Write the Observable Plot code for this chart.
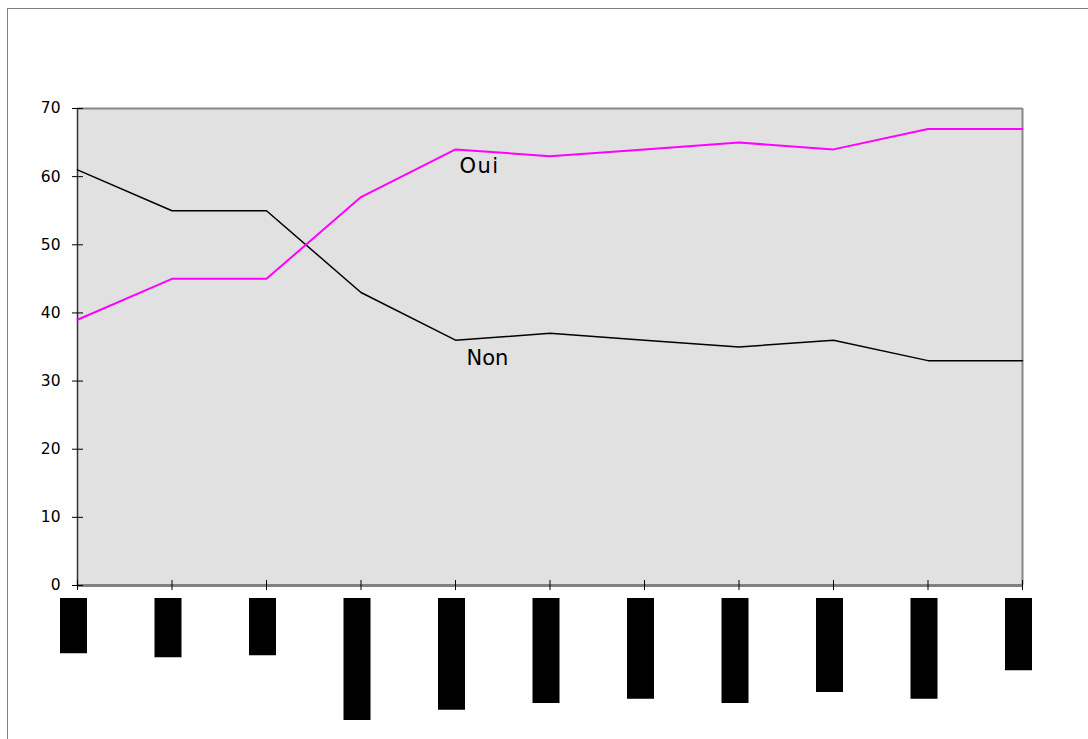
<!DOCTYPE html>
<html><head><meta charset="utf-8">
<script src="https://cdn.jsdelivr.net/npm/d3@7"></script>
<script src="https://cdn.jsdelivr.net/npm/@observablehq/plot@0.6"></script>
<style>
html,body{margin:0;padding:0;background:#fff;overflow:hidden;}
#wrap{position:relative;width:1088px;height:739px;overflow:hidden;}
#border{position:absolute;left:7px;top:8px;width:1100px;height:800px;border-top:1px solid #808080;border-left:1px solid #808080;}
#chart{position:absolute;left:0;top:0;}
</style></head><body>
<div id="wrap"><div id="border"></div><div id="chart"></div></div>
<script>
// Survey periods (original tick labels are redacted in the reference, shown as black boxes)
const periodIndex = [0, 1, 2, 3, 4, 5, 6, 7, 8, 9, 10];
const oui = [39, 45, 45, 57, 64, 63, 64, 65, 64, 67, 67];
const non = [61, 55, 55, 43, 36, 37, 36, 35, 36, 33, 33];
const seriesNames = ["Oui", "Non"];
const yTicks = [0, 10, 20, 30, 40, 50, 60, 70];
// redacted label boxes: extent below the axis, in axis units
const labelMaskTop = -1.9;
const labelMaskDepth = [10.0, 10.6, 10.3, 19.8, 18.3, 17.3, 16.7, 17.3, 15.7, 16.7, 12.5];

const data = periodIndex.map((i, k) => ({i, oui: oui[k], non: non[k], mask: labelMaskDepth[k]}));

const chart = Plot.plot({
  width: 1088, height: 739,
  marginLeft: 77, marginRight: 66, marginTop: 108, marginBottom: 154,
  style: {fontFamily: "'DejaVu Sans', sans-serif", fontSize: "15.5px", color: "#000", background: "transparent", overflow: "visible"},
  x: {domain: [0, 10], axis: null},
  y: {domain: [0, 70], axis: null},
  marks: [
    Plot.frame({fill: "#e1e1e1", stroke: null}),
    Plot.ruleY([70], {stroke: "#888", strokeWidth: 2}),
    Plot.ruleX([10], {stroke: "#888", strokeWidth: 2}),
    Plot.ruleY([0], {stroke: "#808080", strokeWidth: 3}),
    Plot.ruleX([0], {stroke: "#333", strokeWidth: 1.5}),
    Plot.axisY(yTicks, {tickSize: 11, dx: 6, tickPadding: 12, fontSize: 15.5, stroke: "#000", fill: "#000", label: null}),
    Plot.axisX(periodIndex, {tickSize: 10, dy: -5, tickFormat: () => "", stroke: "#000", label: null}),
    Plot.line(data, {x: "i", y: "non", stroke: "#000", strokeWidth: 1.5}),
    Plot.line(data, {x: "i", y: "oui", stroke: "#ff00ff", strokeWidth: 2}),
    Plot.text([data[4]], {x: "i", y: "oui", text: () => seriesNames[0], textAnchor: "start", dx: 4, dy: 16.5, fontSize: 21, fill: "#000"}),
    Plot.text([data[4]], {x: "i", y: "non", text: () => seriesNames[1], textAnchor: "start", dx: 11, dy: 18, fontSize: 21, fill: "#000"}),
    Plot.ruleX(data, {x: "i", y1: () => labelMaskTop, y2: d => -d.mask, stroke: "#000", strokeWidth: 27, dx: -4})
  ]
});
d3.select(chart).selectAll("text").filter(function(){ return this.textContent === "Oui"; }).style("letter-spacing", "1.5px");
document.getElementById("chart").appendChild(chart);
</script>
</body></html>
